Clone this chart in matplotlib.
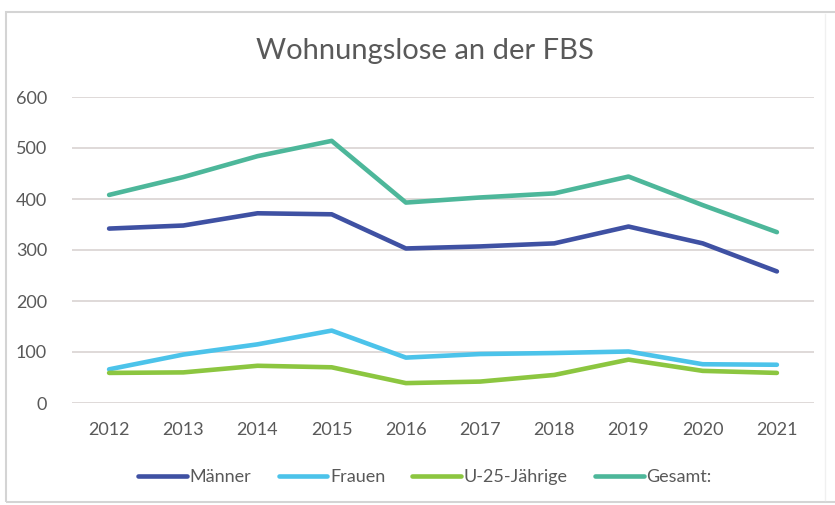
import numpy as np
import matplotlib.pyplot as plt
from matplotlib.patches import Rectangle
from matplotlib.lines import Line2D

plt.rcParams['font.family'] = ['Lato', 'DejaVu Sans']

years = ['2012', '2013', '2014', '2015', '2016', '2017', '2018', '2019', '2020', '2021']
maenner = [342, 348, 372, 370, 303, 307, 313, 346, 313, 258]
frauen = [66, 95, 115, 142, 89, 96, 98, 101, 76, 75]
u25 = [59, 60, 73, 70, 39, 42, 55, 85, 63, 59]
gesamt = [408, 443, 484, 514, 393, 403, 411, 444, 388, 335]

series = [
    ('Männer', maenner, '#3f51a3'),
    ('Frauen', frauen, '#4cc3ea'),
    ('U-25-Jährige', u25, '#8cc640'),
    ('Gesamt:', gesamt, '#4db79a'),
]

W, H = 835, 505
fig = plt.figure(figsize=(W / 100, H / 100), dpi=100)
fig.patch.set_facecolor('white')

# outer chart frame (right edge runs off the picture)
fig.patches.append(Rectangle((6 / W, 1 - 502 / H), 2.0, (502 - 12) / H,
                             transform=fig.transFigure, fill=False,
                             edgecolor='#d4d4d4', linewidth=1.5))
# very faint inner edge on the right
fig.lines.append(Line2D([825 / W, 825 / W], [1 - 500 / H, 1 - 14 / H],
                        transform=fig.transFigure, color='#f0f0f0', linewidth=1))

ax = fig.add_axes([72 / W, 1 - 403 / H, (814 - 72) / W, (403 - 97) / H])
x = np.arange(len(years))
for name, vals, col in series:
    ax.plot(x, vals, color=col, linewidth=3.3, label=name, solid_capstyle='round')

ax.set_xlim(-0.5, len(years) - 0.5)
ax.set_ylim(0, 600)
ax.set_yticks(range(0, 601, 100))
ax.set_xticks(x)
ax.set_xticklabels(years)
ax.grid(axis='y', color='#d9d3d2', linewidth=1.2)
ax.set_axisbelow(True)
for s in ax.spines.values():
    s.set_visible(False)
ax.tick_params(length=0, labelsize=13, colors='#595959')
ax.tick_params(axis='y', pad=18)
ax.tick_params(axis='x', pad=14)

fig.text(425 / W, 1 - 51 / H, 'Wohnungslose an der FBS', ha='center', va='center',
         fontsize=21, color='#595959')

fig.legend(loc='center', bbox_to_anchor=(425 / W, 1 - 477 / H), ncol=4, frameon=False,
           fontsize=13, labelcolor='#595959', handlelength=2.7, handletextpad=0.15,
           columnspacing=1.5)

fig.savefig('out.png', dpi=100)
